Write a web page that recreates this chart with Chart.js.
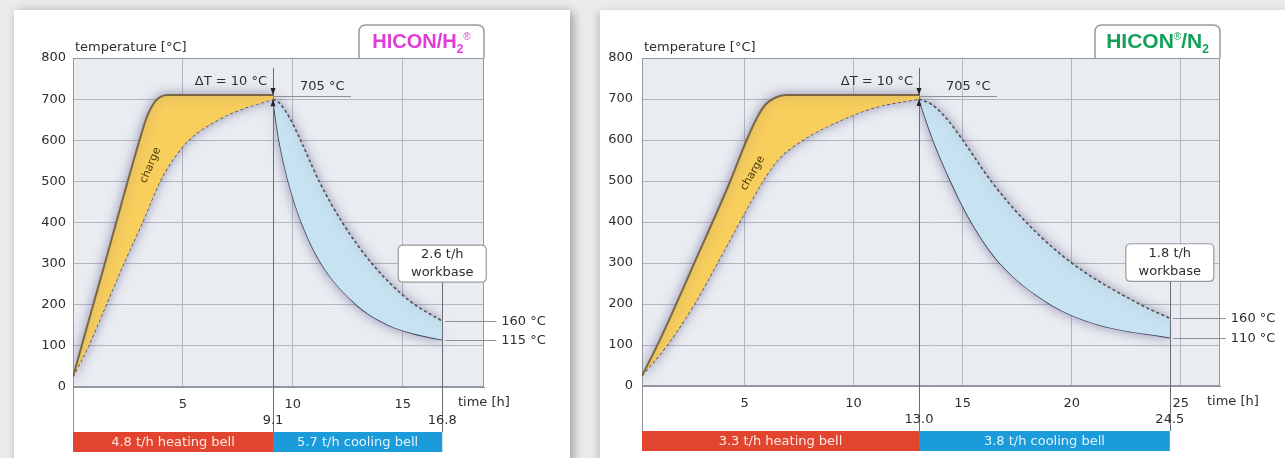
<!DOCTYPE html>
<html><head><meta charset="utf-8">
<script src="https://cdn.jsdelivr.net/npm/chart.js@4.4.1/dist/chart.umd.min.js"></script>
<style>
html,body{margin:0;padding:0;width:1285px;height:458px;overflow:hidden;background:#ebebeb;}
#p1{position:absolute;left:14px;top:10px;width:556px;height:470px;background:#fff;box-shadow:3px 2px 10px rgba(0,0,0,0.35);}
#p2{position:absolute;left:600px;top:10px;width:700px;height:470px;background:#fff;box-shadow:-2px 2px 8px rgba(0,0,0,0.18);}
#c1{position:absolute;left:0;top:0;}
#c2{position:absolute;left:585px;top:0;}
</style></head>
<body>
<div id="p1"></div><div id="p2"></div>
<canvas id="c1" width="580" height="458"></canvas>
<canvas id="c2" width="700" height="458"></canvas>
<script>
// ---------- data ----------
const yTicks = [0,100,200,300,400,500,600,700,800];
const h2XTicks = [5,10,15];
const n2XTicks = [5,10,15,20,25];

// HICON/H2 : heating (charge surface solid, charge core dashed)
const h2HeatSurfH = [0, 1.5, 3.0, 3.35, 3.75, 4.3, 5.5, 9.1];
const h2HeatSurfT = [25, 310, 595, 655, 695, 710, 710, 710];
const h2HeatCoreH = [0, 0.7, 1.5, 2.3, 3.15, 3.95, 4.5, 5.25, 6.6, 7.9, 9.1];
const h2HeatCoreT = [25, 100, 200, 300, 400, 500, 550, 600, 650, 680, 700];
// HICON/H2 : cooling
const h2CoolCoreH = [9.1, 9.4, 9.9, 10.35, 11.2, 12.25, 13.6, 15.3, 16.8];
const h2CoolCoreT = [700, 690, 650, 600, 500, 400, 300, 210, 160];
const h2CoolSurfH = [9.1, 9.38, 9.8, 10.4, 11.3, 12.9, 14.3, 15.5, 16.8];
const h2CoolSurfT = [700, 600, 500, 400, 300, 200, 152, 130, 115];

// HICON/N2 : heating
const n2HeatSurfH = [0.3, 1.1, 2.7, 4.35, 5.1, 5.55, 5.95, 6.4, 6.9, 8, 13];
const n2HeatSurfT = [25, 110, 300, 500, 600, 652, 686, 703, 710, 710, 710];
const n2HeatCoreH = [0.3, 1.45, 2.7, 3.75, 4.77, 5.84, 6.5, 7.67, 9.5, 11.0, 13.0];
const n2HeatCoreT = [25, 100, 200, 300, 400, 500, 550, 600, 650, 680, 700];
// HICON/N2 : cooling
const n2CoolCoreH = [13, 13.6, 14.3, 15.0, 16.3, 17.9, 20.0, 23.1, 24.5];
const n2CoolCoreT = [700, 686, 650, 600, 500, 400, 300, 200, 165];
const n2CoolSurfH = [13, 13.65, 14.45, 15.4, 16.7, 19.0, 21.2, 24.5];
const n2CoolSurfT = [700, 600, 500, 400, 300, 200, 150, 118];

// key times / temperatures and labels
const h2Times = [9.1, 16.8];            // end of heating, end of cooling
const h2TimeLabels = ['9.1', '16.8'];
const h2EndTemps = [160, 115];
const h2EndLabels = ['160 °C', '115 °C'];
const h2Bells = ['4.8 t/h heating bell', '5.7 t/h cooling bell'];
const h2Workbase = ['2.6 t/h', 'workbase'];

const n2Times = [13.0, 24.5];
const n2TimeLabels = ['13.0', '24.5'];
const n2EndTemps = [165, 118];
const n2EndLabels = ['160 °C', '110 °C'];
const n2Bells = ['3.3 t/h heating bell', '3.8 t/h cooling bell'];
const n2Workbase = ['1.8 t/h', 'workbase'];

const holdTemp = 710, coreTemp = 700, markTemp = 705;

// ---------- drawing ----------
const FONT = '"DejaVu Sans", sans-serif';
const TXT = '#2e2e2e';
function zip(a, b){ return a.map((v,i)=>({x:v, y:b[i]})); }

function roundTop(ctx, x, y, w, h, r){
  ctx.beginPath();
  ctx.moveTo(x, y+h); ctx.lineTo(x, y+r); ctx.quadraticCurveTo(x, y, x+r, y);
  ctx.lineTo(x+w-r, y); ctx.quadraticCurveTo(x+w, y, x+w, y+r); ctx.lineTo(x+w, y+h);
}
function roundRect(ctx, x, y, w, h, r){
  ctx.beginPath();
  ctx.moveTo(x+r, y); ctx.lineTo(x+w-r, y); ctx.quadraticCurveTo(x+w, y, x+w, y+r);
  ctx.lineTo(x+w, y+h-r); ctx.quadraticCurveTo(x+w, y+h, x+w-r, y+h);
  ctx.lineTo(x+r, y+h); ctx.quadraticCurveTo(x, y+h, x, y+h-r);
  ctx.lineTo(x, y+r); ctx.quadraticCurveTo(x, y, x+r, y); ctx.closePath();
}

const annot = {
  id: 'annot',
  beforeDraw(chart){
    const {ctx, chartArea:a} = chart;
    ctx.save(); ctx.fillStyle = '#e9ecf1';
    ctx.fillRect(a.left, a.top, a.right-a.left, a.bottom-a.top); ctx.restore();
  },
  beforeDatasetsDraw(chart){
    const {ctx, chartArea:a} = chart;
    ctx.save(); ctx.strokeStyle = '#959aa2'; ctx.lineWidth = 1;
    ctx.strokeRect(a.left+0.5, a.top+0.5, a.right-a.left-1, a.bottom-a.top-1); ctx.restore();
    ctx.save(); ctx.shadowColor = 'rgba(95,85,140,0.55)'; ctx.shadowBlur = 11;
  },
  afterDatasetsDraw(chart){ chart.ctx.restore(); },
  afterDraw(chart, args, o){
    const {ctx, chartArea:a} = chart;
    const X = v => chart.scales.x.getPixelForValue(v);
    const Y = v => chart.scales.y.getPixelForValue(v);
    const xs = X(o.times[0]), xe = X(o.times[1]);
    const barTop = a.bottom + 45, barH = 20;
    ctx.save();
    // axis extension below plot
    ctx.strokeStyle = '#8a8e95'; ctx.lineWidth = 1;
    ctx.beginPath(); ctx.moveTo(a.left+0.5, a.bottom); ctx.lineTo(a.left+0.5, barTop); ctx.stroke();
    // marker line at end of heating
    ctx.strokeStyle = '#6a6d73';
    ctx.beginPath(); ctx.moveTo(Math.round(xs)+0.5, a.top+10); ctx.lineTo(Math.round(xs)+0.5, barTop); ctx.stroke();
    // workbase box and line at end of cooling
    const bTop = Y(o.wbTop), bBot = Y(o.wbBot);
    ctx.beginPath(); ctx.moveTo(Math.round(xe)+0.5, bBot); ctx.lineTo(Math.round(xe)+0.5, barTop); ctx.stroke();
    roundRect(ctx, xe-44, bTop, 88, bBot-bTop, 5);
    ctx.fillStyle = '#fff'; ctx.fill(); ctx.strokeStyle = '#9a9a9a'; ctx.lineWidth = 1.2; ctx.stroke();
    ctx.fillStyle = TXT; ctx.font = '13px '+FONT; ctx.textAlign = 'center'; ctx.textBaseline = 'middle';
    ctx.fillText(o.workbase[0], xe, bTop+10);
    ctx.fillText(o.workbase[1], xe, bTop+28);
    // 705 underline and label
    ctx.strokeStyle = '#8c8f95'; ctx.lineWidth = 1;
    ctx.beginPath(); ctx.moveTo(xs, Math.round(Y(holdTemp-2))+0.5); ctx.lineTo(xs+78, Math.round(Y(holdTemp-2))+0.5); ctx.stroke();
    ctx.textAlign = 'left'; ctx.fillStyle = TXT;
    ctx.fillText(markTemp + ' °C', xs+27, a.top+29);
    // delta T
    ctx.textAlign = 'right';
    ctx.fillText('\u0394T = ' + (holdTemp-coreTemp) + ' °C', xs-6, a.top+24);
    // arrows
    ctx.fillStyle = '#222';
    let t = Y(holdTemp);
    ctx.beginPath(); ctx.moveTo(xs, t); ctx.lineTo(xs-2.5, t-7); ctx.lineTo(xs+2.5, t-7); ctx.closePath(); ctx.fill();
    t = Y(coreTemp);
    ctx.beginPath(); ctx.moveTo(xs, t); ctx.lineTo(xs-2.5, t+7); ctx.lineTo(xs+2.5, t+7); ctx.closePath(); ctx.fill();
    // end temperature leaders
    ctx.strokeStyle = '#8c8f95'; ctx.fillStyle = TXT; ctx.textAlign = 'left';
    o.endTemps.forEach((v,i)=>{
      const y = Math.round(Y(v))+0.5;
      ctx.beginPath(); ctx.moveTo(xe+3, y); ctx.lineTo(xe+o.lead, y); ctx.stroke();
      ctx.fillText(o.endLabels[i], xe+o.lead+5, y);
    });
    // charge label
    ctx.save();
    ctx.translate(X(o.charge[0]), Y(o.charge[1])); ctx.rotate(o.charge[2]*Math.PI/180);
    ctx.fillStyle = '#4d3e10'; ctx.font = '11px '+FONT; ctx.textAlign = 'center';
    ctx.fillText('charge', 0, 0);
    ctx.restore();
    // second row time labels and axis title
    ctx.fillStyle = TXT; ctx.font = '13px '+FONT; ctx.textAlign = 'center';
    ctx.fillText(o.timeLabels[0], xs, a.bottom+34);
    ctx.fillText(o.timeLabels[1], xe, a.bottom+34);
    ctx.textAlign = 'left';
    ctx.fillText('time [h]', a.right + o.timeDx, a.bottom+16);
    ctx.fillText('temperature [°C]', a.left+2, a.top-10);
    // bells
    const x0 = a.left;
    ctx.fillStyle = '#e2452f'; ctx.fillRect(x0, barTop, xs-x0, barH);
    ctx.fillStyle = '#1b9bd9'; ctx.fillRect(xs, barTop, xe-xs, barH);
    ctx.fillStyle = 'rgba(255,240,235,0.95)'; ctx.textAlign = 'center';
    ctx.fillText(o.bells[0], (x0+xs)/2, barTop+barH/2+1);
    ctx.fillStyle = 'rgba(235,248,255,0.95)';
    ctx.fillText(o.bells[1], (xs+xe)/2, barTop+barH/2+1);
    // title tab
    const tw = 125, tx = a.right-tw, ty = 25;
    roundTop(ctx, tx, ty, tw, a.top-ty, 7);
    ctx.fillStyle = '#fff'; ctx.fill(); ctx.strokeStyle = '#9a9a9a'; ctx.lineWidth = 1.5; ctx.stroke();
    const parts = o.title;
    const big = 'bold '+o.titleSize+'px "Liberation Sans", Arial, sans-serif';
    const small = 'bold 12px "Liberation Sans", Arial, sans-serif';
    const sup = '10px "Liberation Sans", Arial, sans-serif';
    let w = 0;
    parts.forEach(p=>{ ctx.font = p.k==='b'?big:(p.k==='sub'?small:sup); p.w = ctx.measureText(p.t).width; w += p.w; });
    let cx = tx + (tw - w)/2; const base = 48;
    ctx.textAlign = 'left'; ctx.textBaseline = 'alphabetic'; ctx.fillStyle = o.titleColor;
    parts.forEach(p=>{
      ctx.font = p.k==='b'?big:(p.k==='sub'?small:sup);
      ctx.fillText(p.t, cx, base + (p.k==='sub'?5:(p.k==='sup'?-8:0)));
      cx += p.w;
    });
    ctx.restore();
  }
};

function makeChart(id, d){
  const font = {family: FONT, size: 13};
  const line = {pointRadius:0, cubicInterpolationMode:'monotone', pointHoverRadius:0};
  return new Chart(document.getElementById(id), {
    type: 'line',
    data: { datasets: [
      Object.assign({data: zip(d.hsH, d.hsT), borderColor:'#7a6843', borderWidth:2, fill:'+1', backgroundColor:'#f8cf5c'}, line),
      Object.assign({data: zip(d.hcH, d.hcT), borderColor:'#505050', borderWidth:1.6, borderDash:[3,2.5], fill:false}, line),
      Object.assign({data: zip(d.ccH, d.ccT), borderColor:'#505050', borderWidth:1.6, borderDash:[3,2.5], fill:'+1', backgroundColor:'#c7e2f0'}, line),
      Object.assign({data: zip(d.csH, d.csT), borderColor:'#3b4650', borderWidth:1.8, fill:false}, line)
    ]},
    options: {
      responsive:false, animation:false, events:[],
      layout:{padding:{top:58, right:d.padR, left:0, bottom:0}},
      plugins:{legend:{display:false}, tooltip:{enabled:false}, annot:d.ann},
      scales:{
        x:{type:'linear', min:d.xMin, max:d.xMax,
           afterBuildTicks:s=>{ s.ticks = d.xTicks.map(v=>({value:v})); },
           afterFit:s=>{ s.height = d.xAxisH; },
           grid:{color:'#b3b7be', drawTicks:false}, border:{color:'#8f939a'},
           ticks:{padding:10, font, color:TXT, maxRotation:0, autoSkip:false}},
        y:{min:0, max:800,
           afterBuildTicks:s=>{ s.ticks = yTicks.map(v=>({value:v})); },
           afterFit:s=>{ s.width = d.yAxisW; },
           grid:{color:'#b3b7be', drawTicks:false}, border:{color:'#8f939a'},
           ticks:{padding:d.yPad, font, color:TXT}}
      }
    },
    plugins:[annot]
  });
}

makeChart('c1', {
  hsH:h2HeatSurfH, hsT:h2HeatSurfT, hcH:h2HeatCoreH, hcT:h2HeatCoreT,
  ccH:h2CoolCoreH, ccT:h2CoolCoreT, csH:h2CoolSurfH, csT:h2CoolSurfT,
  xMin:0, xMax:18.7, xTicks:h2XTicks, padR:96, xAxisH:71, yAxisW:73, yPad:7,
  ann:{times:h2Times, timeLabels:h2TimeLabels, endTemps:h2EndTemps, endLabels:h2EndLabels,
       bells:h2Bells, workbase:h2Workbase, wbTop:345, wbBot:255, lead:54, timeDx:-26,
       charge:[3.53, 539, -67], titleColor:'#e03cd6', titleSize:20,
       title:[{t:'HICON/H',k:'b'},{t:'2',k:'sub'},{t:'®',k:'sup'}]}
});
makeChart('c2', {
  hsH:n2HeatSurfH, hsT:n2HeatSurfT, hcH:n2HeatCoreH, hcT:n2HeatCoreT,
  ccH:n2CoolCoreH, ccT:n2CoolCoreT, csH:n2CoolSurfH, csT:n2CoolSurfT,
  xMin:0.3, xMax:26.8, xTicks:n2XTicks, padR:65, xAxisH:72, yAxisW:57, yPad:9,
  ann:{times:n2Times, timeLabels:n2TimeLabels, endTemps:n2EndTemps, endLabels:n2EndLabels,
       bells:n2Bells, workbase:n2Workbase, wbTop:347, wbBot:255, lead:56, timeDx:-13,
       charge:[5.38, 519, -60], titleColor:'#15a05a', titleSize:21,
       title:[{t:'HICON',k:'b'},{t:'®',k:'sup'},{t:'/N',k:'b'},{t:'2',k:'sub'}]}
});
</script>
</body></html>
